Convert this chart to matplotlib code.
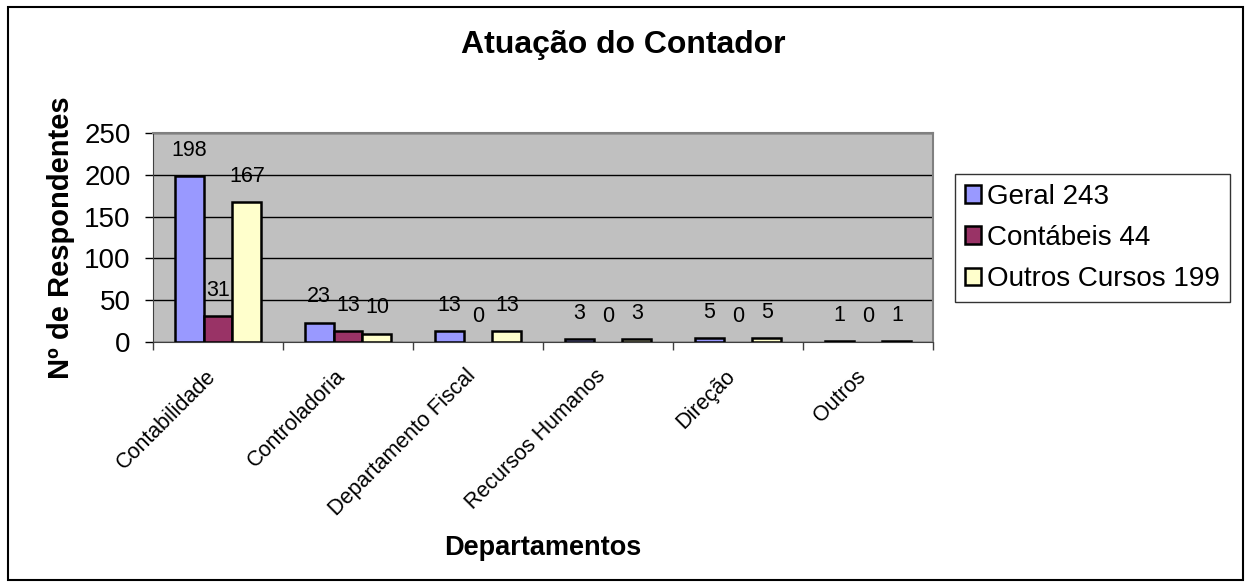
import numpy as np
import matplotlib.pyplot as plt
from matplotlib.patches import Rectangle

plt.rcParams["font.family"] = ["Liberation Sans", "DejaVu Sans"]

departamentos = ["Contabilidade", "Controladoria", "Departamento Fiscal",
                 "Recursos Humanos", "Direção", "Outros"]
series_names = ["Geral 243", "Contábeis 44", "Outros Cursos 199"]
geral = [198, 23, 13, 3, 5, 1]
contabeis = [31, 13, 0, 0, 0, 0]
outros_cursos = [167, 10, 13, 3, 5, 1]
colors = ["#9999FF", "#993366", "#FFFFCC"]

fig = plt.figure(figsize=(12.47, 5.87), dpi=100)
ax = fig.add_axes([153 / 1247, 1 - 342 / 587, 780 / 1247, 209 / 587])
ax.set_facecolor("#C0C0C0")

x = np.arange(len(departamentos))
w = 0.223
handles = []
for k, (vals, name, col) in enumerate(zip([geral, contabeis, outros_cursos],
                                         series_names, colors)):
    vals = np.array(vals)
    lw = [1.8 if v > 0 else 0 for v in vals]
    bars = ax.bar(x + (k - 1) * w, vals, width=w, color=col,
                  edgecolor="black", linewidth=lw, zorder=3, label=name)
    handles.append(bars)
    for xi, v in zip(x + (k - 1) * w, vals):
        ax.annotate(str(v), (xi, v), xytext=(0, 11), textcoords="offset points",
                    ha="center", va="bottom", fontsize=15.5)

ax.set_xlim(-0.5, len(departamentos) - 0.5)
ax.set_ylim(0, 250)
ax.set_yticks(np.arange(0, 251, 50))
ax.yaxis.grid(True, color="black", linewidth=1)
ax.set_axisbelow(True)
ax.tick_params(axis="y", labelsize=20, length=6, width=1, pad=10, direction="out")

# rotated category labels end a little left of the group centre
ax.set_xticks(x - 0.1)
ax.set_xticklabels(departamentos, rotation=45, ha="right",
                   rotation_mode="anchor", fontsize=15.5)
ax.tick_params(axis="x", which="major", length=0, pad=17)
ax.set_xticks(np.arange(-0.5, len(departamentos), 1), minor=True)
ax.tick_params(axis="x", which="minor", length=6, width=1, direction="out",
               color="#404040")

for side in ["top", "right"]:
    ax.spines[side].set_color("#808080")
    ax.spines[side].set_linewidth(1.5)
ax.spines["left"].set_color("#404040")
ax.spines["bottom"].set_color("#404040")

ax.set_xlabel("Departamentos", fontsize=19.5, fontweight="bold")
ax.xaxis.set_label_coords(0.5, (342 - 535) / 209)
ax.set_ylabel("Nº de Respondentes", fontsize=21, fontweight="bold", labelpad=7)
fig.suptitle("Atuação do Contador", x=0.5, y=1 - 45 / 587, va="center",
             fontsize=23, fontweight="bold")

leg = fig.legend(handles=handles, loc="upper left",
                 bbox_to_anchor=(955 / 1247, 1 - 174 / 587), fontsize=20,
                 frameon=True, fancybox=False, edgecolor="black",
                 handlelength=0.6, handleheight=0.6, handletextpad=0.2,
                 labelspacing=0.55, borderpad=0.35, borderaxespad=0)
leg.get_frame().set_linewidth(1)

fig.patches.append(Rectangle((8 / 1247, 1 - 580 / 587), 1235 / 1247, 573 / 587,
                             transform=fig.transFigure, fill=False,
                             edgecolor="black", linewidth=1.5))

fig.savefig("out.png", dpi=100)
